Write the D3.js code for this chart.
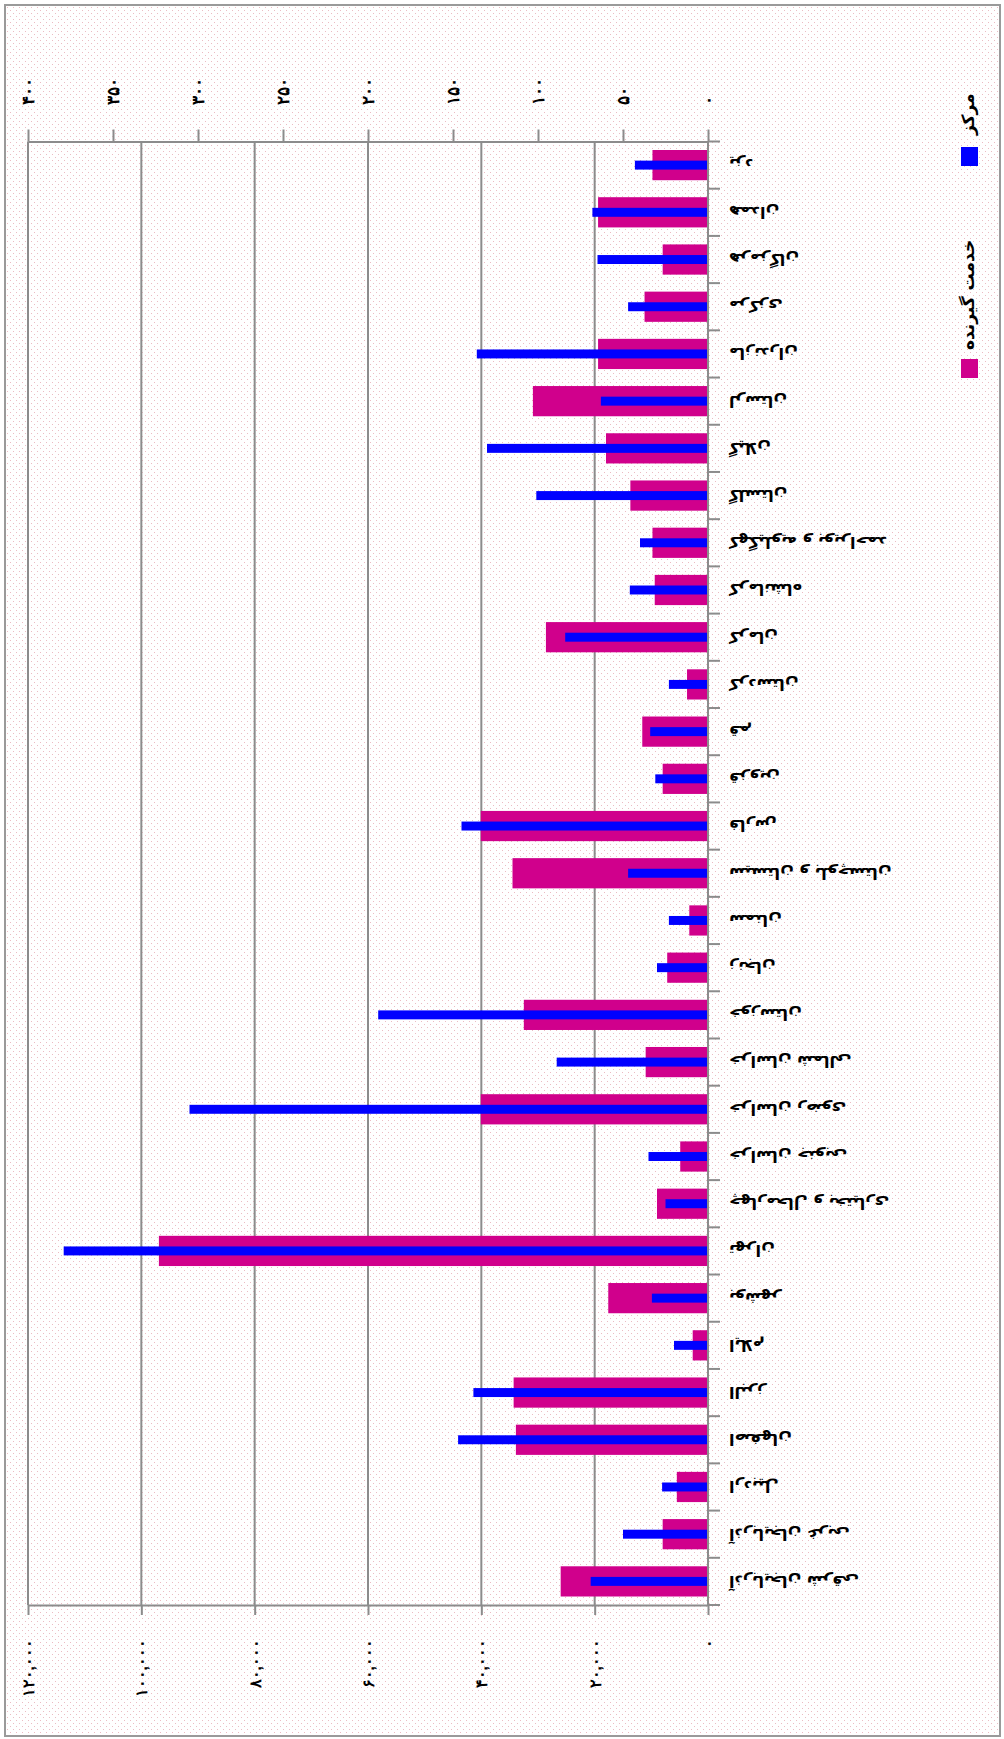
<!DOCTYPE html>
<html>
<head>
<meta charset="utf-8">
<script src="https://d3js.org/d3.v7.min.js"></script>
<style>
  body { margin: 0; background: #fff; }
  svg { display: block; font-family: "DejaVu Sans", sans-serif; }
  .axis path, .axis line, .grid line { stroke: #8c8c8c; stroke-width: 2; }
  .axis text { font-size: 16px; font-weight: bold; fill: #000; }
</style>
</head>
<body>
<svg class="chart"></svg>
<script>

// provinces in table order (the first one ends up at the bottom of the page)
var provinces = [
    "آذربایجان شرقی", "آذربایجان غربی", "اردبیل", "اصفهان", "البرز", "ایلام",
    "بوشهر", "تهران", "چهارمحال و بختیاری", "خراسان جنوبی", "خراسان رضوی",
    "خراسان شمالی", "خوزستان", "زنجان", "سمنان", "سیستان و بلوچستان", "فارس",
    "قزوین", "قم", "کردستان", "کرمان", "کرمانشاه", "کهگیلویه و بویراحمد",
    "گلستان", "گیلان", "لرستان", "مازندران", "مرکزی", "هرمزگان", "همدان", "یزد"
];

// خدمت گیرنده (left axis)
var clients = [
    26000, 8000, 5500, 33900, 34300, 2700,
    17600, 96900, 9000, 4900, 40100,
    11000, 32500, 7200, 3300, 34500, 40100,
    8000, 11600, 3700, 28600, 9400, 9800,
    13700, 18000, 30900, 19400, 11200, 8000, 19400, 9800
];

// مرکز (right axis)
var centers = [
    69, 50, 27, 147, 138, 20,
    33, 379, 25, 35, 305,
    89, 194, 30, 23, 47, 145,
    31, 34, 23, 84, 46, 40,
    101, 130, 63, 136, 47, 65, 68, 43
];

var seriesNames = ["خدمت گیرنده", "مرکز"];

var clientTicks = [0, 20000, 40000, 60000, 80000, 100000, 120000];
var clientTickLabels = ["۰", "۲۰,۰۰۰", "۴۰,۰۰۰", "۶۰,۰۰۰", "۸۰,۰۰۰", "۱۰۰,۰۰۰", "۱۲۰,۰۰۰"];

var centerTicks = [0, 50, 100, 150, 200, 250, 300, 350, 400];
var centerTickLabels = ["۰", "۵۰", "۱۰۰", "۱۵۰", "۲۰۰", "۲۵۰", "۳۰۰", "۳۵۰", "۴۰۰"];

var width = 1004,
    height = 1739,
    plot = {left: 28, right: 708, top: 141.5, bottom: 1605};

var svg = d3.select(".chart")
    .attr("width", width)
    .attr("height", height);

drawBackground(svg);

// scales: bars run from the right (zero) to the left
var y = d3.scaleBand()
    .domain(provinces.slice().reverse())
    .range([plot.top, plot.bottom]);

var xClients = d3.scaleLinear()
    .domain([0, 120000])
    .range([plot.right, plot.left]);

var xCenters = d3.scaleLinear()
    .domain([0, 400])
    .range([plot.right, plot.left]);

drawGrid(svg, xClients);
drawBars(svg, y, xClients, xCenters);
drawAxes(svg, y, xClients, xCenters);
drawLegend(svg);


// dotted page background with grey frame
function drawBackground(svg) {

    var pattern = svg.append("defs").append("pattern")
        .attr("id", "dots")
        .attr("patternUnits", "userSpaceOnUse")
        .attr("width", 6)
        .attr("height", 6);

    pattern.append("rect")
        .attr("width", 6)
        .attr("height", 6)
        .attr("fill", "#fff");

    pattern.selectAll(".dot")
        .data([[1, 1], [4, 4]])
        .enter().append("rect")
        .attr("x", function(d) { return d[0]; })
        .attr("y", function(d) { return d[1]; })
        .attr("width", 1)
        .attr("height", 1)
        .attr("fill", "#ebbcc3");

    svg.append("rect")
        .attr("x", 5)
        .attr("y", 5)
        .attr("width", 995)
        .attr("height", 1731)
        .attr("fill", "url(#dots)")
        .attr("stroke", "#9a9a9a")
        .attr("stroke-width", 2);
}

// vertical grid lines for the left axis
function drawGrid(svg, x) {

    svg.append("g")
        .attr("class", "grid")
        .selectAll("line")
        .data(clientTicks.slice(1))
        .enter().append("line")
        .attr("x1", function(d) { return x(d); })
        .attr("x2", function(d) { return x(d); })
        .attr("y1", plot.top)
        .attr("y2", plot.bottom);
}

function drawBars(svg, y, xClients, xCenters) {

    var bw = y.bandwidth(),
        pinkH = bw * 0.64,
        blueH = bw * 0.19;

    svg.append("g").selectAll("rect")
        .data(provinces)
        .enter().append("rect")
        .attr("x", function(d, i) { return xClients(clients[i]); })
        .attr("y", function(d) { return y(d) + (bw - pinkH) / 2; })
        .attr("width", function(d, i) { return xClients(0) - xClients(clients[i]); })
        .attr("height", pinkH)
        .attr("fill", "#d0008c");

    svg.append("g").selectAll("rect")
        .data(provinces)
        .enter().append("rect")
        .attr("x", function(d, i) { return xCenters(centers[i]); })
        .attr("y", function(d) { return y(d) + (bw - blueH) / 2; })
        .attr("width", function(d, i) { return xCenters(0) - xCenters(centers[i]); })
        .attr("height", blueH)
        .attr("fill", "#0000ff");
}

function drawAxes(svg, y, xClients, xCenters) {

    // left axis (bottom of the page)
    var bottom = svg.append("g")
        .attr("class", "axis")
        .attr("transform", "translate(0," + plot.bottom + ")")
        .call(d3.axisBottom(xClients)
            .tickValues(clientTicks)
            .tickFormat(function(d, i) { return clientTickLabels[i]; })
            .tickSize(10)
            .tickSizeOuter(0));

    bottom.selectAll("text")
        .attr("x", 0)
        .attr("y", 0)
        .attr("dy", "0.35em")
        .attr("text-anchor", "end")
        .attr("transform", "translate(0,34) rotate(-90)");

    // right axis (top of the page)
    var top = svg.append("g")
        .attr("class", "axis")
        .attr("transform", "translate(0," + plot.top + ")")
        .call(d3.axisTop(xCenters)
            .tickValues(centerTicks)
            .tickFormat(function(d, i) { return centerTickLabels[i]; })
            .tickSize(12)
            .tickSizeOuter(0));

    top.selectAll("text")
        .attr("x", 0)
        .attr("y", 0)
        .attr("dy", "0.35em")
        .attr("text-anchor", "start")
        .style("font-size", "17px")
        .attr("transform", "translate(0,-37) rotate(-90)");

    // category axis, ticks between the provinces
    var cat = svg.append("g").attr("class", "axis");
    var bounds = y.domain().map(function(d) { return y(d); }).concat([plot.bottom]);

    cat.append("line")
        .attr("x1", plot.right)
        .attr("x2", plot.right)
        .attr("y1", plot.top)
        .attr("y2", plot.bottom);

    cat.selectAll(".tick")
        .data(bounds)
        .enter().append("line")
        .attr("x1", plot.right)
        .attr("x2", plot.right + 12)
        .attr("y1", function(d) { return d; })
        .attr("y2", function(d) { return d; });

    // labels are upside down
    cat.selectAll("text")
        .data(y.domain())
        .enter().append("text")
        .attr("transform", function(d) {
            return "translate(" + (plot.right + 21) + "," + (y(d) + y.bandwidth() / 2) + ") rotate(180)";
        })
        .attr("dy", "0.35em")
        .attr("text-anchor", "end")
        .text(function(d) { return d; });
}

function drawLegend(svg) {

    var items = [
        {name: seriesNames[1], color: "#0000ff", box: 147, text: 135},
        {name: seriesNames[0], color: "#d0008c", box: 359, text: 350}
    ];

    var legend = svg.append("g").attr("class", "legend");

    legend.selectAll("rect")
        .data(items)
        .enter().append("rect")
        .attr("x", 961)
        .attr("y", function(d) { return d.box; })
        .attr("width", 17)
        .attr("height", 19)
        .attr("fill", function(d) { return d.color; });

    legend.selectAll("text")
        .data(items)
        .enter().append("text")
        .attr("transform", function(d) { return "translate(968," + d.text + ") rotate(-90)"; })
        .attr("dy", "0.35em")
        .attr("text-anchor", "start")
        .style("font-size", "17px")
        .style("font-weight", "bold")
        .text(function(d) { return d.name; });
}
</script>
</body>
</html>
